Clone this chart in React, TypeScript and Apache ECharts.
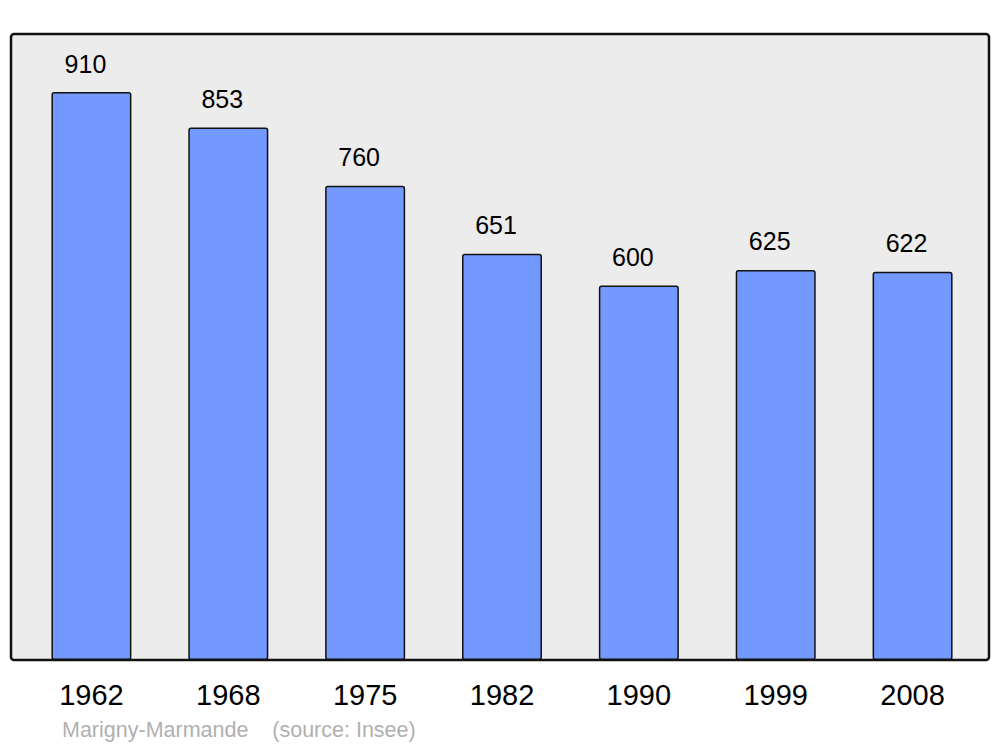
import React, { useEffect, useRef } from "react";
import * as echarts from "echarts";

const years = ["1962", "1968", "1975", "1982", "1990", "1999", "2008"];
const population = [910, 853, 760, 651, 600, 625, 622];
const footerText = "Marigny-Marmande    (source: Insee)";

export default function App() {
  const ref = useRef<HTMLDivElement>(null);
  useEffect(() => {
    if (!ref.current) return;
    const chart = echarts.init(ref.current, null, { renderer: "svg" });
    chart.setOption({
      animation: false,
      backgroundColor: "#ffffff",
      textStyle: { fontFamily: "Liberation Sans, Arial, sans-serif" },
      grid: { left: 23, right: 19, top: 34, bottom: 87 },
      xAxis: {
        type: "category",
        data: years,
        axisLine: { show: false },
        axisTick: { show: false },
        axisLabel: {
          color: "#000",
          fontSize: 29,
          margin: 20,
          fontFamily: "Liberation Sans, Arial, sans-serif",
        },
      },
      yAxis: {
        type: "value",
        min: 0,
        max: 1003,
        show: false,
        splitLine: { show: false },
      },
      graphic: [
        {
          type: "rect",
          z: -10,
          shape: { x: 11, y: 34, width: 978, height: 626, r: 3 },
          style: { fill: "#ececec", stroke: "#111111", lineWidth: 2.5 },
        },
        {
          type: "text",
          left: 62,
          top: 719,
          style: {
            text: footerText,
            fill: "#b0b0b0",
            fontSize: 21.5,
            fontFamily: "Liberation Sans, Arial, sans-serif",
          },
        },
      ],
      series: [
        {
          type: "bar",
          data: population,
          barWidth: 80,
          z: 5,
          itemStyle: {
            color: "#7399ff",
            borderColor: "#111111",
            borderWidth: 1.5,
            borderRadius: 2,
          },
          label: {
            show: true,
            position: "top",
            distance: 16,
            offset: [-6, 0],
            color: "#000",
            fontSize: 25,
            fontFamily: "Liberation Sans, Arial, sans-serif",
          },
        },
      ],
    });
    return () => chart.dispose();
  }, []);
  return (
    <div
      ref={ref}
      style={{ position: "absolute", left: 0, top: 0, width: 1000, height: 747 }}
    />
  );
}
